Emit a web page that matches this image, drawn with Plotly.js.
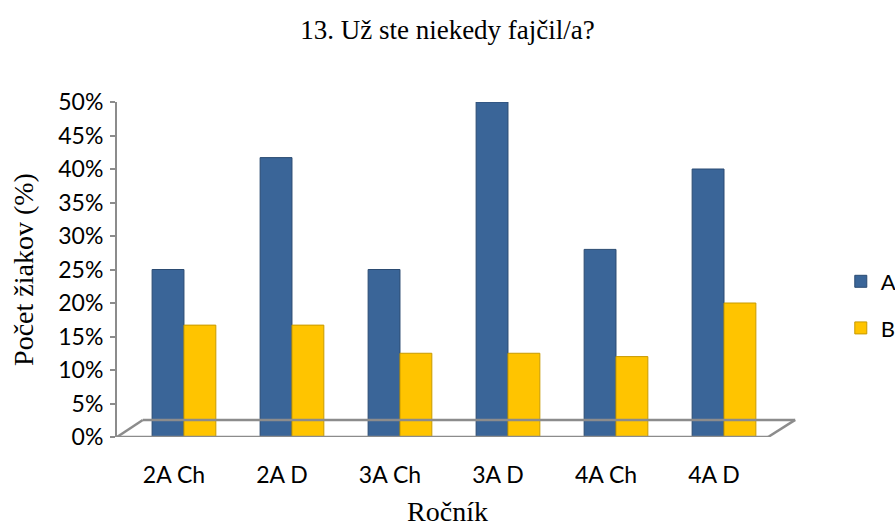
<!DOCTYPE html>
<html>
<head>
<meta charset="utf-8">
<script src="https://cdn.plot.ly/plotly-3.0.1.min.js"></script>
<style>html,body{margin:0;padding:0;background:#fff;}#chart{width:895px;height:527px;}</style>
</head>
<body>
<div id="chart"></div>
<script>
const categories = ["2A Ch", "2A D", "3A Ch", "3A D", "4A Ch", "4A D"];
const seriesNames = ["A", "B"];
const valuesA = [25, 41.7, 25, 50, 28, 40];
const valuesB = [16.7, 16.7, 12.5, 12.5, 12, 20];
const yTickVals = [0, 5, 10, 15, 20, 25, 30, 35, 40, 45, 50];
const yTickText = yTickVals.map(v => v + "%");

const traces = [
  {type: "bar", name: seriesNames[0], legendgroup: "a", x: categories, y: valuesA,
   marker: {color: "#3A6598", line: {color: "#2B4B72", width: 1}}},
  {type: "bar", name: seriesNames[1], legendgroup: "b", x: categories, y: valuesB,
   marker: {color: "#FFC400", line: {color: "#C89A00", width: 1}}}
];

const floorColor = "#8C8C8C";
const sansFont = "Lato, Carlito, sans-serif";
const serifFont = "Liberation Serif, Times New Roman, serif";
const layout = {
  width: 895, height: 527,
  margin: {l: 117, r: 117, t: 102, b: 90, autoexpand: false},
  paper_bgcolor: "#fff", plot_bgcolor: "rgba(0,0,0,0)",
  title: {text: "13. Už ste niekedy fajčil/a?", x: 0.5, xanchor: "center", y: 0.943, yanchor: "middle",
          font: {family: serifFont, size: 27, color: "#000"}},
  barmode: "group", bargap: 0.41, bargroupgap: 0,
  showlegend: true,
  legend: {x: 1.095, xanchor: "left", y: 0.394, yanchor: "middle", traceorder: "grouped", tracegroupgap: 15,
           font: {family: sansFont, size: 22, color: "#000"},
           itemwidth: 30, bgcolor: "rgba(0,0,0,0)"},
  xaxis: {type: "category", range: [-0.62, 5.5], automargin: false, showgrid: false, zeroline: false, showline: false,
          ticks: "", tickfont: {family: sansFont, size: 23, color: "#000"},
          ticklabelstandoff: 22, ticklabelshift: -10,
          title: {text: "Ročník", standoff: 14, font: {family: serifFont, size: 28, color: "#000"}}},
  yaxis: {range: [0, 50], automargin: false, tickvals: yTickVals, ticktext: yTickText, showgrid: false, zeroline: false,
          showline: true, linecolor: floorColor, linewidth: 2, ticks: "outside", ticklen: 5, tickcolor: floorColor, tickwidth: 2,
          tickfont: {family: sansFont, size: 23, color: "#000"}, ticklabelstandoff: 2,
          title: {text: "Počet žiakov (%)", standoff: 16, font: {family: serifFont, size: 28, color: "#000"}}},
  shapes: [
    {type: "line", xref: "paper", yref: "y", x0: 0, y0: 0, x1: 0.985, y1: 0, line: {color: floorColor, width: 2.5}},
    {type: "line", xref: "paper", yref: "y", x0: 0.039, y0: 2.55, x1: 1.026, y1: 2.55, line: {color: floorColor, width: 2.5}},
    {type: "line", xref: "paper", yref: "y", x0: 0, y0: 0, x1: 0.039, y1: 2.55, line: {color: floorColor, width: 2.5}},
    {type: "line", xref: "paper", yref: "y", x0: 0.985, y0: 0, x1: 1.026, y1: 2.55, line: {color: floorColor, width: 2.5}}
  ]
};
Plotly.newPlot("chart", traces, layout, {displayModeBar: false, staticPlot: true});
</script>
</body>
</html>
